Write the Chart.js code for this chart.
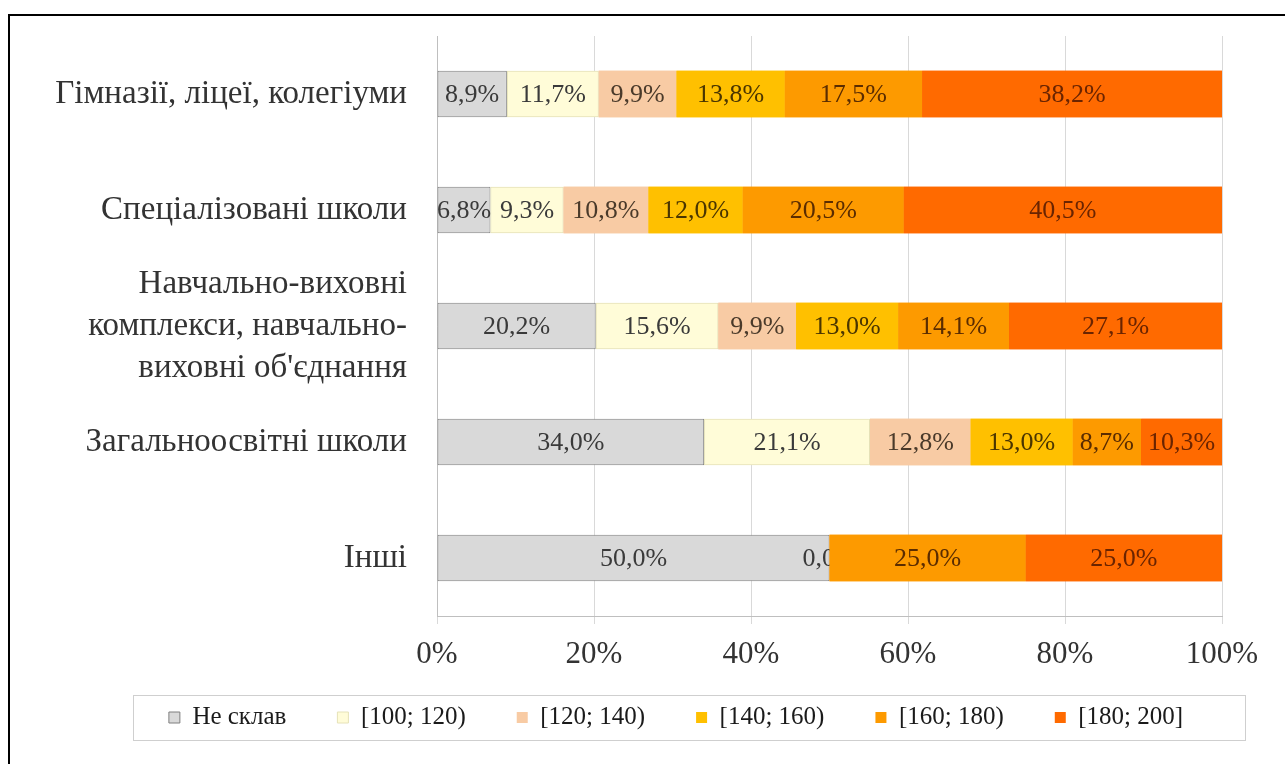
<!DOCTYPE html>
<html>
<head>
<meta charset="utf-8">
<script src="https://cdn.jsdelivr.net/npm/chart.js@4.4.0/dist/chart.umd.min.js"></script>
<style>
    html, body { margin: 0; padding: 0; background: #fff; }
    #wrap { width: 1285px; height: 764px; position: relative; }
</style>
</head>
<body>
<div id="wrap"><canvas id="chart" width="1285" height="764"></canvas></div>
<script>
// Категорії (вісь Y)
const categories = [
    "Гімназії, ліцеї, колегіуми",
    "Спеціалізовані школи",
    ["Навчально-виховні", "комплекси, навчально-", "виховні об'єднання"],
    "Загальноосвітні школи",
    "Інші"
];

const seriesNames = ["Не склав", "[100; 120)", "[120; 140)", "[140; 160)", "[160; 180)", "[180; 200]"];

// Частки, % (зчитано з діаграми)
const neSklav = [8.9, 6.8, 20.2, 34.0, 50.0];
const r100_120 = [11.7, 9.3, 15.6, 21.1, 0.0];
const r120_140 = [9.9, 10.8, 9.9, 12.8, null];
const r140_160 = [13.8, 12.0, 13.0, 13.0, null];
const r160_180 = [17.5, 20.5, 14.1, 8.7, 25.0];
const r180_200 = [38.2, 40.5, 27.1, 10.3, 25.0];

const xTicks = [0, 20, 40, 60, 80, 100];

const SERIF = "'Liberation Serif', 'Times New Roman', serif";

const seriesValues = [neSklav, r100_120, r120_140, r140_160, r160_180, r180_200];
const fillColors = ["#d9d9d9", "#fffcd8", "#f8cba4", "#ffc000", "#fd9a00", "#ff6a00"];
const edgeColors = ["#7f7f7f", "#e6e2b8", "#f8cba4", "#ffc000", "#fd9a00", "#ff6a00"];
const labelColors = ["#3a3a3a", "#3a3a3a", "#4a3a2a", "#4a3500", "#5a2c00", "#6a2400"];

// 100% нормування по рядку
const rowSums = categories.map((_, i) =>
    seriesValues.reduce((s, arr) => s + (arr[i] || 0), 0));

const datasets = seriesValues.map((arr, k) => ({
    label: seriesNames[k],
    data: arr.map((v, i) => v === null ? null : v / rowSums[i] * 100),
    raw: arr,
    backgroundColor: fillColors[k],
    borderColor: edgeColors[k],
    borderWidth: k < 2 ? 1 : 0,
    borderSkipped: false,
    categoryPercentage: 1.0,
    barPercentage: 0.4
}));

function fmt(v) {
    return v.toFixed(1).replace(".", ",") + "%";
}

// підписи значень, як в Excel: наступна серія перекриває попередні підписи
const valueLabels = {
    id: "valueLabels",
    afterDatasetsDraw(chart) {
        const ctx = chart.ctx;
        ctx.save();
        chart.data.datasets.forEach((ds, k) => {
            const meta = chart.getDatasetMeta(k);
            if (k > 0) {
                meta.data.forEach((el, i) => {
                    if (ds.data[i] !== null) el.draw(ctx);
                });
            }
            ctx.font = "26px " + SERIF;
            ctx.textAlign = "center";
            ctx.textBaseline = "middle";
            ctx.fillStyle = labelColors[k];
            meta.data.forEach((el, i) => {
                const v = ds.raw[i];
                if (v === null) return;
                const cx = (el.x + el.base) / 2;
                ctx.fillText(fmt(v), cx, el.y + 1);
            });
        });
        ctx.restore();
    }
};

// легенда: зсув на місце як в оригіналі
const legendPlace = {
    id: "legendPlace",
    afterLayout(chart) {
        const lg = chart.legend;
        if (!lg) return;
        const pad = lg.options.labels.padding;
        const dx = 676 - (lg.left + lg.right) / 2;
        const dy = 705 - (lg.top + pad);
        lg.left += dx; lg.right += dx;
        lg.top += dy; lg.bottom += dy;
    }
};

// рамка навколо легенди і зовнішня рамка
const frames = {
    id: "frames",
    afterDraw(chart) {
        const ctx = chart.ctx;
        const boxes = chart.legend.legendHitBoxes;
        if (boxes && boxes.length) {
            const left = Math.min(...boxes.map(b => b.left));
            const right = Math.max(...boxes.map(b => b.left + b.width));
            ctx.save();
            ctx.strokeStyle = "#cfcfcf";
            ctx.lineWidth = 1;
            const x0 = Math.round(left - 36), x1 = Math.round(right + 62);
            ctx.strokeRect(x0 + 0.5, 695.5, x1 - x0, 45);
            ctx.restore();
        }
        ctx.save();
        ctx.fillStyle = "#000";
        ctx.fillRect(8, 14, 2, 750);
        ctx.fillRect(8, 14, 1277, 2);
        ctx.restore();
    }
};

new Chart(document.getElementById("chart"), {
    type: "bar",
    data: { labels: categories, datasets: datasets },
    options: {
        indexAxis: "y",
        responsive: false,
        animation: false,
        layout: { padding: { top: 36, right: 63, left: 0, bottom: 0 } },
        scales: {
            x: {
                stacked: true,
                min: 0,
                max: 100,
                afterBuildTicks(scale) {
                    scale.ticks = xTicks.map(v => ({ value: v }));
                },
                afterFit(scale) {
                    scale.height = 62;
                    scale.paddingLeft = 0;
                    scale.paddingRight = 0;
                },
                grid: { color: "#d9d9d9", tickLength: 8, drawTicks: true },
                border: { color: "#bfbfbf" },
                ticks: {
                    padding: 12,
                    color: "#333",
                    font: { family: SERIF, size: 31 },
                    callback: v => v + "%"
                }
            },
            y: {
                stacked: true,
                afterFit(scale) {
                    scale.width = 437;
                    scale.paddingTop = 0;
                    scale.paddingBottom = 0;
                },
                grid: { display: false },
                border: { color: "#bfbfbf" },
                ticks: {
                    autoSkip: false,
                    padding: 22,
                    color: "#333",
                    font: { family: SERIF, size: 33, lineHeight: 1.27 }
                }
            }
        },
        plugins: {
            tooltip: { enabled: false },
            legend: {
                position: "bottom",
                labels: {
                    boxWidth: 11,
                    boxHeight: 11,
                    padding: 51,
                    color: "#1a1a1a",
                    font: { family: SERIF, size: 25 }
                }
            }
        }
    },
    plugins: [valueLabels, legendPlace, frames]
});
</script>
</body>
</html>
